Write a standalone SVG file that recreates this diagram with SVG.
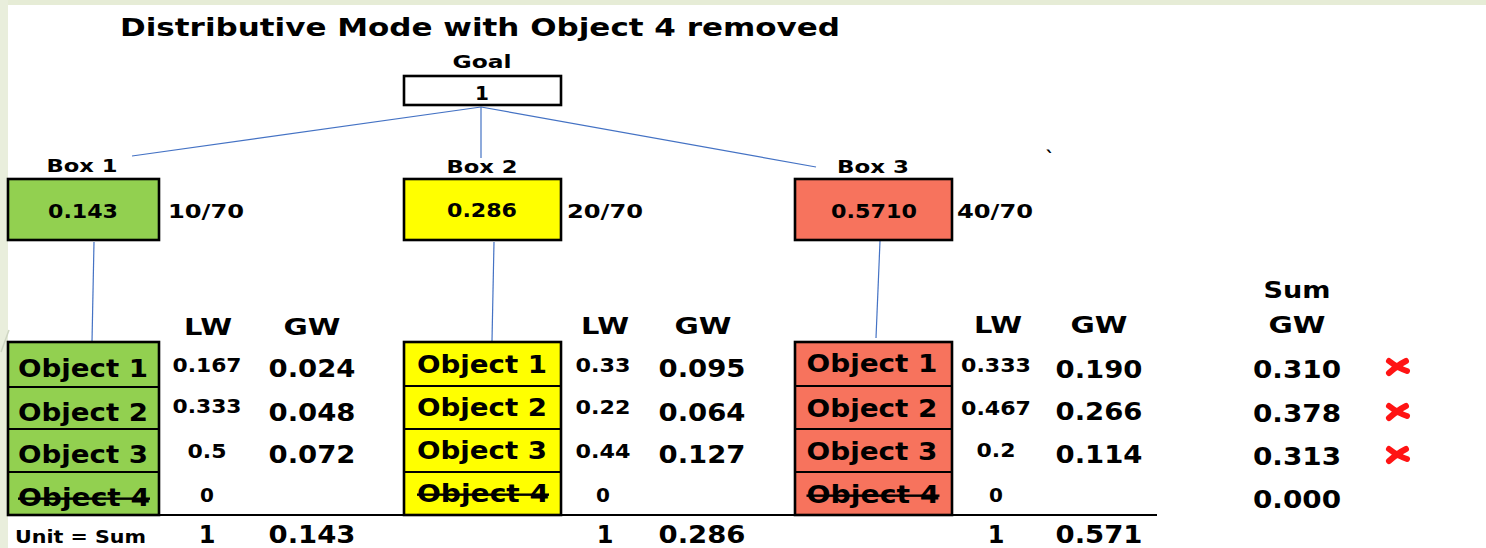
<svg xmlns="http://www.w3.org/2000/svg" width="1486" height="548" viewBox="0 0 1486 548">
<style>
.t{font-family:"DejaVu Sans","Liberation Sans",sans-serif;font-weight:bold;fill:#000;text-anchor:middle}
.l{text-anchor:start}
.s18{font-size:18px}
.s19{font-size:19px}
.s20{font-size:20px}
.s23{font-size:23px}
.s24{font-size:24px}
.box{stroke:#000;stroke-width:2.6}
.div{stroke:#000;stroke-width:2.2}
.g{fill:#92d050}.y{fill:#ffff00}.r{fill:#f7735d}
.con{stroke:#4472c4;stroke-width:1.2;fill:none}
.strike{text-decoration:line-through}
.x{stroke:#ff1414;stroke-width:6;stroke-linecap:round;fill:none}
</style>
<rect x="0" y="0" width="1486" height="548" fill="#ffffff"/>
<rect x="0" y="0" width="1486" height="5" fill="#e6ecd6"/>
<rect x="0" y="0" width="8" height="548" fill="#e9eedc"/>
<line x1="1" y1="352" x2="9" y2="330" stroke="#cfd6c2" stroke-width="1.5"/>

<text class="t l s24" x="120" y="36" textLength="720" lengthAdjust="spacingAndGlyphs">Distributive Mode with Object 4 removed</text>

<g id="connectors">
<line class="con" x1="481" y1="107" x2="132" y2="156"/>
<line class="con" x1="481" y1="107" x2="481" y2="158"/>
<line class="con" x1="481" y1="107" x2="816" y2="167"/>
<line class="con" x1="94" y1="242" x2="92" y2="342"/>
<line class="con" x1="494" y1="242" x2="492" y2="341"/>
<line class="con" x1="880" y1="241" x2="876" y2="338"/>
</g>

<g id="goal">
<text class="t s18" x="482" y="68" textLength="59" lengthAdjust="spacingAndGlyphs">Goal</text>
<rect class="box" x="404" y="76" width="157" height="29" fill="#fff"/>
<text class="t s20" x="482" y="100">1</text>
</g>

<g id="box1">
<text class="t s18" x="82" y="172" textLength="71" lengthAdjust="spacingAndGlyphs">Box 1</text>
<rect class="box g" x="8" y="179" width="151" height="61"/>
<text class="t s20" x="83" y="218" textLength="70" lengthAdjust="spacingAndGlyphs">0.143</text>
<text class="t l s20" x="168" y="218" textLength="76" lengthAdjust="spacingAndGlyphs">10/70</text>
</g>

<g id="box2">
<text class="t s18" x="482" y="173" textLength="71" lengthAdjust="spacingAndGlyphs">Box 2</text>
<rect class="box y" x="404" y="179" width="157" height="61"/>
<text class="t s20" x="482" y="217" textLength="70" lengthAdjust="spacingAndGlyphs">0.286</text>
<text class="t l s20" x="567" y="218" textLength="76" lengthAdjust="spacingAndGlyphs">20/70</text>
</g>

<g id="box3">
<text class="t s18" x="873" y="173" textLength="72" lengthAdjust="spacingAndGlyphs">Box 3</text>
<rect class="box r" x="795" y="179" width="157" height="61"/>
<text class="t s20" x="874" y="218" textLength="86" lengthAdjust="spacingAndGlyphs">0.5710</text>
<text class="t l s20" x="957" y="218" textLength="76" lengthAdjust="spacingAndGlyphs">40/70</text>
</g>

<text class="t s18" x="1050" y="164">`</text>

<g id="stack1">
<rect class="box g" x="8" y="342" width="151" height="173"/>
<line class="div" x1="8" y1="387" x2="159" y2="387"/>
<line class="div" x1="8" y1="429" x2="159" y2="429"/>
<line class="div" x1="8" y1="472" x2="159" y2="472"/>
<text class="t s24" x="83" y="377" textLength="130" lengthAdjust="spacingAndGlyphs">Object 1</text>
<text class="t s24" x="83" y="421" textLength="130" lengthAdjust="spacingAndGlyphs">Object 2</text>
<text class="t s24" x="83" y="463" textLength="130" lengthAdjust="spacingAndGlyphs">Object 3</text>
<text class="t s24 strike" x="84" y="506" textLength="132" lengthAdjust="spacingAndGlyphs">Object 4</text>
</g>

<g id="stack2">
<rect class="box y" x="404" y="342" width="157" height="173"/>
<line class="div" x1="404" y1="386" x2="561" y2="386"/>
<line class="div" x1="404" y1="429" x2="561" y2="429"/>
<line class="div" x1="404" y1="472" x2="561" y2="472"/>
<text class="t s24" x="482" y="373" textLength="130" lengthAdjust="spacingAndGlyphs">Object 1</text>
<text class="t s24" x="482" y="416" textLength="130" lengthAdjust="spacingAndGlyphs">Object 2</text>
<text class="t s24" x="482" y="459" textLength="130" lengthAdjust="spacingAndGlyphs">Object 3</text>
<text class="t s24 strike" x="483" y="502" textLength="132" lengthAdjust="spacingAndGlyphs">Object 4</text>
</g>

<g id="stack3">
<rect class="box r" x="795" y="342" width="157" height="173"/>
<line class="div" x1="795" y1="386" x2="952" y2="386"/>
<line class="div" x1="795" y1="429" x2="952" y2="429"/>
<line class="div" x1="795" y1="472" x2="952" y2="472"/>
<text class="t s24" x="872" y="372" textLength="131" lengthAdjust="spacingAndGlyphs">Object 1</text>
<text class="t s24" x="872" y="417" textLength="131" lengthAdjust="spacingAndGlyphs">Object 2</text>
<text class="t s24" x="872" y="460" textLength="131" lengthAdjust="spacingAndGlyphs">Object 3</text>
<text class="t s24 strike" x="873" y="503" textLength="133" lengthAdjust="spacingAndGlyphs">Object 4</text>
</g>

<line x1="7" y1="515" x2="1157" y2="515" stroke="#000" stroke-width="2"/>

<g id="table1">
<text class="t s23" x="208" y="335" textLength="48" lengthAdjust="spacingAndGlyphs">LW</text>
<text class="t s23" x="312" y="335" textLength="57" lengthAdjust="spacingAndGlyphs">GW</text>
<text class="t s19" x="207" y="372" textLength="69" lengthAdjust="spacingAndGlyphs">0.167</text>
<text class="t s19" x="207" y="413" textLength="69" lengthAdjust="spacingAndGlyphs">0.333</text>
<text class="t s19" x="207" y="458" textLength="39" lengthAdjust="spacingAndGlyphs">0.5</text>
<text class="t s20" x="207" y="502">0</text>
<text class="t s24" x="312" y="377" textLength="87" lengthAdjust="spacingAndGlyphs">0.024</text>
<text class="t s24" x="312" y="421" textLength="87" lengthAdjust="spacingAndGlyphs">0.048</text>
<text class="t s24" x="312" y="463" textLength="87" lengthAdjust="spacingAndGlyphs">0.072</text>
<text class="t l" style="font-size:17px" x="15" y="543" textLength="131" lengthAdjust="spacingAndGlyphs">Unit = Sum</text>
<text class="t s24" x="207" y="543">1</text>
<text class="t s24" x="312" y="543" textLength="87" lengthAdjust="spacingAndGlyphs">0.143</text>
</g>

<g id="table2">
<text class="t s23" x="605" y="334" textLength="48" lengthAdjust="spacingAndGlyphs">LW</text>
<text class="t s23" x="703" y="334" textLength="57" lengthAdjust="spacingAndGlyphs">GW</text>
<text class="t s19" x="603" y="372" textLength="55" lengthAdjust="spacingAndGlyphs">0.33</text>
<text class="t s19" x="603" y="414" textLength="55" lengthAdjust="spacingAndGlyphs">0.22</text>
<text class="t s19" x="603" y="458" textLength="55" lengthAdjust="spacingAndGlyphs">0.44</text>
<text class="t s20" x="603" y="502">0</text>
<text class="t s24" x="702" y="377" textLength="87" lengthAdjust="spacingAndGlyphs">0.095</text>
<text class="t s24" x="702" y="421" textLength="87" lengthAdjust="spacingAndGlyphs">0.064</text>
<text class="t s24" x="702" y="463" textLength="87" lengthAdjust="spacingAndGlyphs">0.127</text>
<text class="t s24" x="605" y="543">1</text>
<text class="t s24" x="702" y="543" textLength="87" lengthAdjust="spacingAndGlyphs">0.286</text>
</g>

<g id="table3">
<text class="t s23" x="998" y="333" textLength="48" lengthAdjust="spacingAndGlyphs">LW</text>
<text class="t s23" x="1099" y="333" textLength="57" lengthAdjust="spacingAndGlyphs">GW</text>
<text class="t s19" x="996" y="372" textLength="70" lengthAdjust="spacingAndGlyphs">0.333</text>
<text class="t s19" x="996" y="415" textLength="70" lengthAdjust="spacingAndGlyphs">0.467</text>
<text class="t s19" x="996" y="457" textLength="39" lengthAdjust="spacingAndGlyphs">0.2</text>
<text class="t s20" x="996" y="502">0</text>
<text class="t s24" x="1099" y="378" textLength="87" lengthAdjust="spacingAndGlyphs">0.190</text>
<text class="t s24" x="1099" y="420" textLength="87" lengthAdjust="spacingAndGlyphs">0.266</text>
<text class="t s24" x="1099" y="463" textLength="87" lengthAdjust="spacingAndGlyphs">0.114</text>
<text class="t s24" x="996" y="543">1</text>
<text class="t s24" x="1099" y="543" textLength="87" lengthAdjust="spacingAndGlyphs">0.571</text>
</g>

<g id="sumgw">
<text class="t s23" x="1297" y="298" textLength="67" lengthAdjust="spacingAndGlyphs">Sum</text>
<text class="t s23" x="1297" y="333" textLength="57" lengthAdjust="spacingAndGlyphs">GW</text>
<text class="t s24" x="1297" y="378" textLength="88" lengthAdjust="spacingAndGlyphs">0.310</text>
<text class="t s24" x="1297" y="422" textLength="88" lengthAdjust="spacingAndGlyphs">0.378</text>
<text class="t s24" x="1297" y="465" textLength="88" lengthAdjust="spacingAndGlyphs">0.313</text>
<text class="t s24" x="1297" y="508" textLength="88" lengthAdjust="spacingAndGlyphs">0.000</text>
</g>

<g id="marks">
<path class="x" d="M1389,361 Q1398,368 1407,371 M1389,373 Q1398,365 1406,361"/>
<path class="x" d="M1389,406 Q1398,413 1407,416 M1389,418 Q1398,410 1406,406"/>
<path class="x" d="M1389,449 Q1398,456 1407,459 M1389,461 Q1398,453 1406,449"/>
</g>
</svg>
